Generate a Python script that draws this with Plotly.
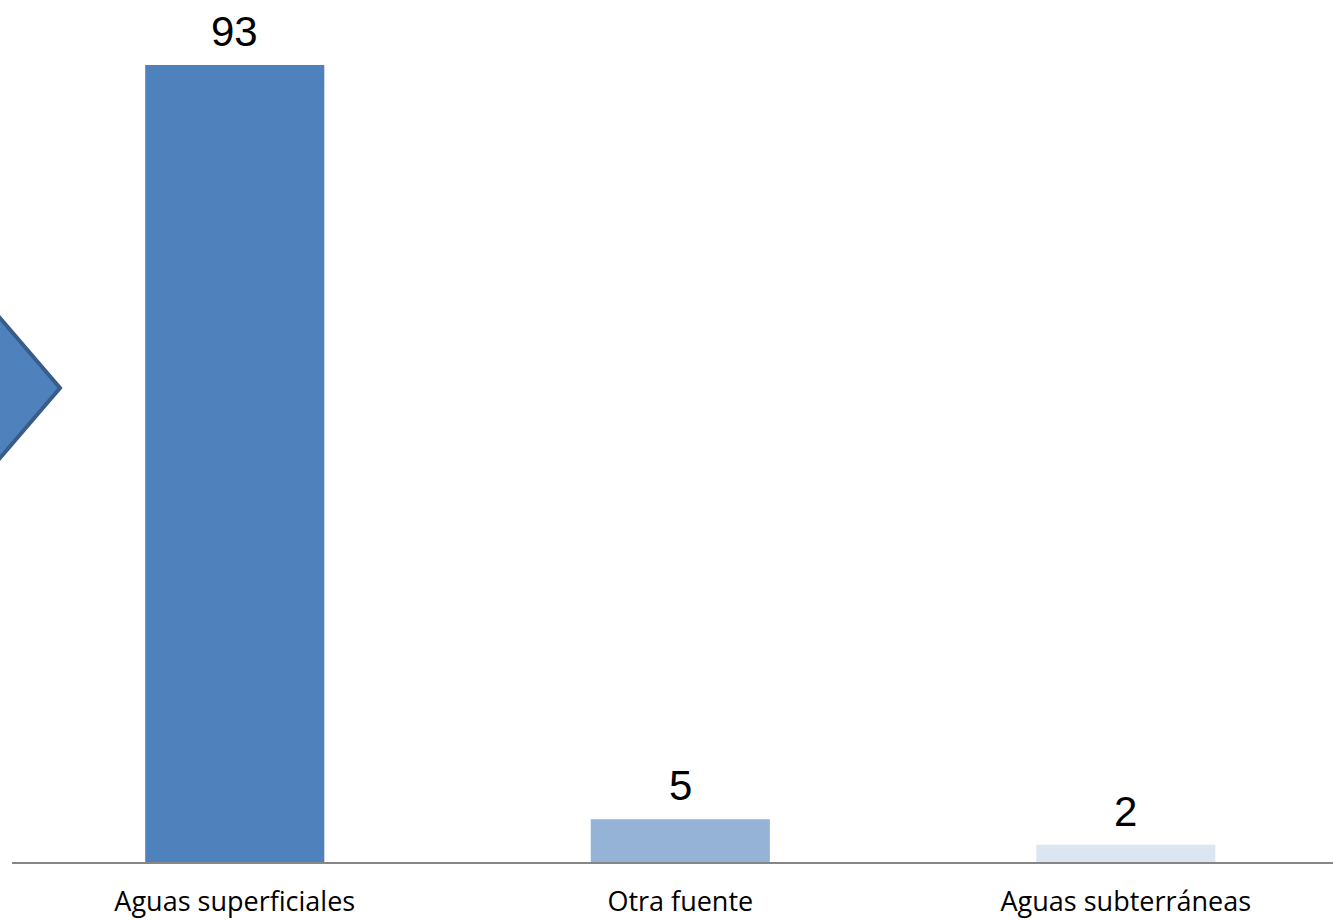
import plotly.graph_objects as go

categories = ["Aguas superficiales", "Otra fuente", "Aguas subterráneas"]
values = [93, 5, 2]
bar_colors = ["#4F81BD", "#95B3D7", "#DCE6F2"]

fig = go.Figure()
fig.add_trace(go.Bar(
    x=categories, y=values, marker=dict(color=bar_colors, line=dict(width=0)),
    width=0.402, showlegend=False, hoverinfo="skip",
))

for c, v in zip(categories, values):
    fig.add_annotation(x=c, y=v, text=str(v), showarrow=False, yanchor="bottom",
                       yshift=8, font=dict(family="Liberation Sans, Arial", size=42, color="#000000"))

# decorative chevron at left edge
def px(x):
    return (x - 12) / 1321
def py(y):
    return (862 - y) / 862

path = (f"M {px(-100)},{py(388)} L {px(-20)},{py(294.7)} L {px(60)},{py(388)} "
        f"L {px(-20)},{py(481.3)} Z")
fig.add_shape(type="path", path=path, xref="paper", yref="paper",
              fillcolor="#4F81BD", line=dict(color="#385D8A", width=4), layer="above")

fig.update_layout(
    width=1333, height=920,
    margin=dict(l=12, r=0, t=0, b=58, autoexpand=False),
    plot_bgcolor="white", paper_bgcolor="white",
    xaxis=dict(range=[-0.5, 2.465], showline=True, linecolor="#868686", linewidth=2,
               ticks="", showgrid=False, zeroline=False, ticklabelstandoff=15,
               automargin=False,
               tickfont=dict(family="Open Sans", size=27, color="#000000")),
    yaxis=dict(range=[0, 100.6], visible=False, showgrid=False, zeroline=False,
               automargin=False),
)

fig.write_html("out.html", config={"displayModeBar": False},
               post_script="document.body.style.margin='0';document.body.style.overflow='hidden';")
